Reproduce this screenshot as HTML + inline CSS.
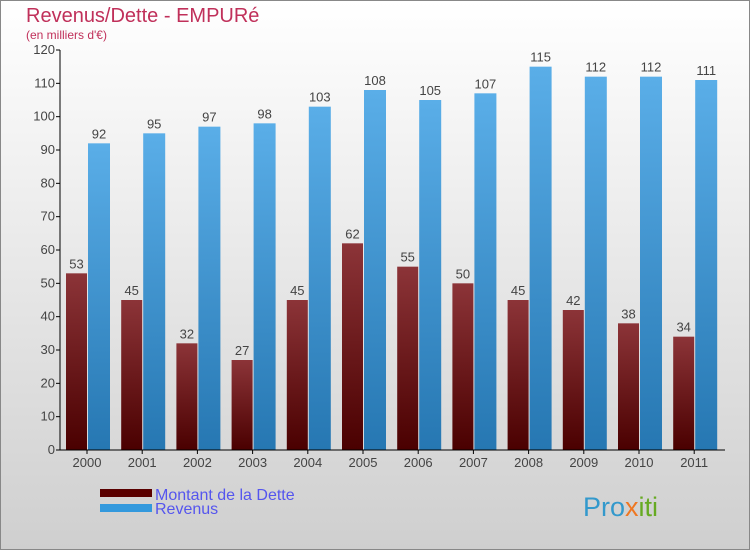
<!DOCTYPE html>
<html><head><meta charset="utf-8"><style>
body{margin:0}
#c{width:750px;height:550px;position:relative;overflow:hidden;background:linear-gradient(#ffffff,#cfcfcf);border:1px solid #888;box-sizing:border-box;font-family:"Liberation Sans",sans-serif}
</style></head><body>
<div id="c">
<svg id="s" width="750" height="550" xmlns="http://www.w3.org/2000/svg" style="position:absolute;left:-1px;top:-1px">
<defs>
<linearGradient id="gd" x1="0" y1="0" x2="0" y2="1"><stop offset="0" stop-color="#8c3438"/><stop offset="1" stop-color="#4a0000"/></linearGradient>
<linearGradient id="gr" x1="0" y1="0" x2="0" y2="1"><stop offset="0" stop-color="#5aaee8"/><stop offset="1" stop-color="#2677b2"/></linearGradient>
</defs>
<text x="26" y="22" font-size="20" fill="#c0305a">Revenus/Dette - EMPURé</text>
<text x="26" y="39" font-size="12" fill="#c0305a">(en milliers d'€)</text>
<g id="plot"></g>
<g>
<rect x="100" y="489" width="52" height="8" fill="#5a0000"/>
<rect x="100" y="504" width="52" height="8" fill="#3399dd"/>
<text x="155" y="500" font-size="16" fill="#5555ee">Montant de la Dette</text>
<text x="155" y="514" font-size="16" fill="#5555ee">Revenus</text>
</g>
<text x="583" y="516" font-size="27" fill="#3399cc">Pro<tspan fill="#ee7722">x</tspan><tspan fill="#66aa22">iti</tspan></text>
</svg>
</div>
<script>
const years=["2000","2001","2002","2003","2004","2005","2006","2007","2008","2009","2010","2011"];
const dette=[53,45,32,27,45,62,55,50,45,42,38,34];
const revenus=[92,95,97,98,103,108,105,107,115,112,112,111];
const yTicks=[0,10,20,30,40,50,60,70,80,90,100,110,120];
const NS="http://www.w3.org/2000/svg";
const g=document.getElementById('plot');
const x0=60,x1=725,yb=450,yt=50,ymax=120;
const y=v=>yb-(v/ymax)*(yb-yt);
const cx=i=>87+i*55.2;
function mk(t,a){const e=document.createElementNS(NS,t);for(const k in a)e.setAttribute(k,a[k]);g.appendChild(e);return e;}
yTicks.forEach(v=>{
  const l=mk('line',{x1:x0-4,x2:x0,y1:y(v),y2:y(v),stroke:'#000'});
  
  
  const t=mk('text',{x:x0-5,y:y(v)+4,'font-size':13,fill:'#444','text-anchor':'end'});t.textContent=v;
  
  
});
years.forEach((yr,i)=>{
  const c=cx(i);
  const bd=mk('rect',{x:c-21,y:y(dette[i]),width:21,height:yb-y(dette[i]),fill:'url(#gd)'});
  
  
  const br=mk('rect',{x:c+1,y:y(revenus[i]),width:22,height:yb-y(revenus[i]),fill:'url(#gr)'});
  
  
  const td=mk('text',{x:c-10.5,y:y(dette[i])-5,'font-size':13,fill:'#444','text-anchor':'middle'});td.textContent=dette[i];
  
  
  const tr=mk('text',{x:c+12,y:y(revenus[i])-5,'font-size':13,fill:'#444','text-anchor':'middle'});tr.textContent=revenus[i];
  
  
  const tk=mk('line',{x1:c,x2:c,y1:yb,y2:yb+4,stroke:'#000'});
  
  
  const tl=mk('text',{x:c,y:yb+17,'font-size':13,fill:'#444','text-anchor':'middle'});tl.textContent=yr;
  
  
});
const ya=mk('line',{x1:x0,x2:x0,y1:yt,y2:yb,stroke:'#000'});


const xa=mk('line',{x1:x0,x2:x1,y1:yb,y2:yb,stroke:'#000'});


</script>
</body></html>
